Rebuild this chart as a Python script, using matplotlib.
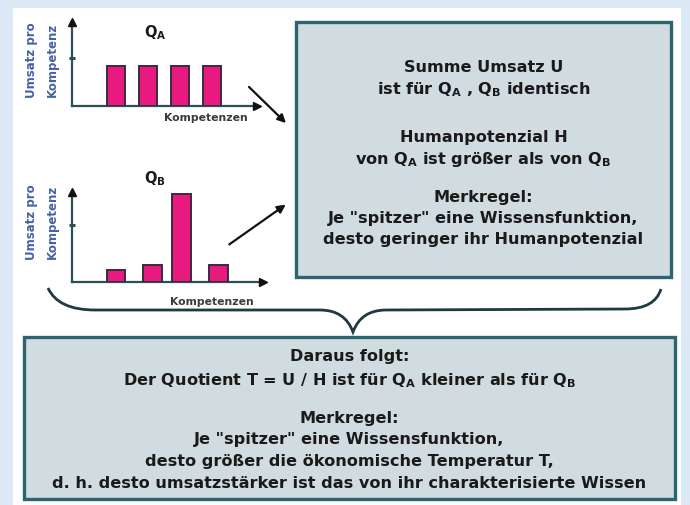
import matplotlib
matplotlib.use("Agg")
import matplotlib.pyplot as plt
from matplotlib.patches import Rectangle, PathPatch, FancyArrowPatch
from matplotlib.path import Path

plt.rcParams['font.family'] = ['DejaVu Sans']
plt.rcParams['mathtext.fontset'] = 'dejavusans'

# ---------------- data ----------------
kompetenzen = ["K1", "K2", "K3", "K4"]
umsatz_qa = [1.0, 1.0, 1.0, 1.0]
umsatz_qb = [0.29, 0.42, 2.2, 0.42]
tick_qa = 1.19
tick_qb = 1.42
title_qa = r"Q$_\mathbf{A}$"
title_qb = r"Q$_\mathbf{B}$"
ylabel_lines = ["Umsatz pro", "Kompetenz"]
xlabel = "Kompetenzen"
box1_lines = [
    "Summe Umsatz U",
    r"ist für Q$_\mathbf{A}$ , Q$_\mathbf{B}$ identisch",
    "Humanpotenzial H",
    r"von Q$_\mathbf{A}$ ist größer als von Q$_\mathbf{B}$",
    "Merkregel:",
    'Je "spitzer" eine Wissensfunktion,',
    "desto geringer ihr Humanpotenzial",
]
box2_lines = [
    "Daraus folgt:",
    r"Der Quotient T = U / H ist für Q$_\mathbf{A}$ kleiner als für Q$_\mathbf{B}$",
    "Merkregel:",
    'Je "spitzer" eine Wissensfunktion,',
    "desto größer die ökonomische Temperatur T,",
    "d. h. desto umsatzstärker ist das von ihr charakterisierte Wissen",
]

# ---------------- layout ----------------
W, H = 690, 506
BG = "#dde9f6"
BOX_FILL = "#d0dcdf"
BOX_EDGE = "#2e6470"
TXT = "#1a1a1a"
BAR = "#e8197f"
BAR_EDGE = "#3b2a40"
AXC = "#2e4f56"

fig = plt.figure(figsize=(W / 100, H / 100), dpi=100, facecolor=BG)
bg = fig.add_axes([0, 0, 1, 1])
bg.set_xlim(0, W)
bg.set_ylim(H, 0)
bg.axis("off")

# white panel
bg.add_patch(Rectangle((13, 9), 668, 500, facecolor="white", edgecolor="none", zorder=0))

# boxes
bg.add_patch(Rectangle((296, 23), 375, 255, facecolor=BOX_FILL, edgecolor=BOX_EDGE, lw=2.4, zorder=1))
bg.add_patch(Rectangle((24, 338), 651, 162, facecolor=BOX_FILL, edgecolor=BOX_EDGE, lw=2.4, zorder=1))

fs = 11.6
for txt, yb in zip(box1_lines, [72, 94, 142, 164, 202, 223, 244]):
    bg.text(483.5, yb, txt, ha="center", va="baseline", fontsize=fs, fontweight="bold", color=TXT, zorder=3)
for txt, yb in zip(box2_lines, [361, 385, 423, 444, 466, 488]):
    bg.text(349.5, yb, txt, ha="center", va="baseline", fontsize=fs, fontweight="bold", color=TXT, zorder=3)

# brace
verts = [(48, 289), (58, 311), (95, 311),
         (320, 311), (345, 311), (353, 333),
         (361, 311), (386, 311),
         (625, 310), (655, 310), (661, 290)]
codes = [Path.MOVETO, Path.CURVE3, Path.CURVE3,
         Path.LINETO, Path.CURVE3, Path.CURVE3,
         Path.CURVE3, Path.CURVE3,
         Path.LINETO, Path.CURVE3, Path.CURVE3]
bg.add_patch(PathPatch(Path(verts, codes), facecolor="none", edgecolor="#1f3a40", lw=2.0, zorder=2))

# arrows
for (x0, y0), (x1, y1) in [((247, 86), (288, 126)), ((227, 247), (288, 204))]:
    bg.add_patch(FancyArrowPatch((x0, y0), (x1, y1), arrowstyle="-|>", mutation_scale=12,
                                 color="#111111", lw=1.6, zorder=3))


def mini_chart(x0, ytop, x1, ybase, positions, values, width, unit_px, tick, title, title_xy,
               ylab_y, xlab_xy):
    ax = fig.add_axes([x0 / W, 1 - ybase / H, (x1 - x0) / W, (ybase - ytop) / H])
    ax.patch.set_alpha(0)
    ax.bar(positions, values, width=width, color=BAR, edgecolor=BAR_EDGE, lw=1.4, zorder=3)
    left = 1 - 44 / 32
    ax.set_xlim(left, left + (x1 - x0) / 32)
    ax.set_ylim(0, (ybase - ytop) / unit_px)
    for s in ["top", "right"]:
        ax.spines[s].set_visible(False)
    for s in ["left", "bottom"]:
        ax.spines[s].set_color(AXC)
        ax.spines[s].set_linewidth(1.6)
    ax.set_xticks([])
    ax.set_yticks([tick])
    ax.tick_params(axis="y", direction="inout", length=5, width=2.2, color=AXC, labelleft=False)
    ax.plot(0, 1, "^", transform=ax.transAxes, clip_on=False, color="#111111", ms=6, zorder=5)
    ax.plot(1, 0, ">", transform=ax.transAxes, clip_on=False, color="#111111", ms=6, zorder=5)
    bg.text(title_xy[0], title_xy[1], title, ha="center", va="baseline", fontsize=10.5,
            fontweight="bold", color=TXT)
    bg.text(32, ylab_y, ylabel_lines[0], rotation=90, ha="center", va="center", fontsize=8.5,
            fontweight="bold", color="#4661a6")
    bg.text(52, ylab_y, ylabel_lines[1], rotation=90, ha="center", va="center", fontsize=8.5,
            fontweight="bold", color="#4661a6")
    bg.text(xlab_xy[0], xlab_xy[1], xlabel, ha="center", va="baseline", fontsize=7.8,
            fontweight="bold", color="#3a3a3a")
    return ax


mini_chart(72, 23, 257, 107, [1, 2, 3, 4], umsatz_qa, 0.56, 40, tick_qa, title_qa,
           (155, 37), 60, (206, 121))
mini_chart(72, 193, 263, 283, [1, 2.15, 3.05, 4.2], umsatz_qb, 0.59, 40, tick_qb, title_qb,
           (155, 183), 222, (212, 305))

fig.savefig("out.png", dpi=100, facecolor=BG)
